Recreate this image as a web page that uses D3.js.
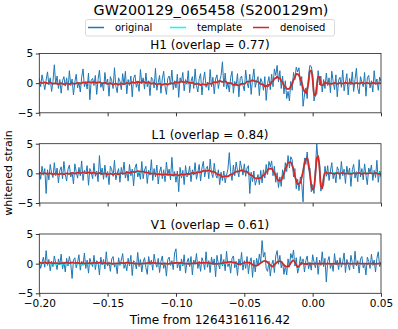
<!DOCTYPE html>
<html>
<head>
<meta charset="utf-8">
<script src="https://cdn.jsdelivr.net/npm/d3@7"></script>
<style>
  body { margin: 0; background: #fff; }
  svg { font-family: "DejaVu Sans", sans-serif; }
</style>
</head>
<body>
<div id="chart"></div>
<script>
// sample grids (s, relative to 1264316116.42)
const tGrid = d3.range(251).map(i => -0.2 + i * 0.001);
const sigT = [
  ...d3.range(83).map(k => -0.2 + 0.002 * k),
  ...d3.range(48).map(k => -0.035 + 0.001 * k),
  ...d3.range(19).map(k => 0.014 + 0.002 * k)
];

const xTicks = [-0.2, -0.15, -0.1, -0.05, 0, 0.05];
const yTicks = [-5, 0, 5];
const seriesNames = ['original', 'template', 'denoised'];
const detectors = ['H1', 'L1', 'V1'];
const overlaps = [0.77, 0.84, 0.61];

// whitened strain, 1 ms samples
const h1Orig = [
  0.8, -0.6, 1.4, 0.2, -1.1, 0.5, 1.9, -0.3, 0.9, -1.4,
  0.3, 3.1, -0.2, 1.2, -0.9, 0.6, -1.7, 0.4, 1.1, -0.5,
  0.9, -1.2, 2.1, -0.4, 0.7, -2.0, 0.2, 1.5, -0.8, 0.1,
  -1.5, 1.0, 2.4, -0.6, 0.3, -1.0, 1.7, -2.8, 0.5, 0.8,
  -0.4, 1.3, -1.9, 0.6, 2.2, -0.7, 0.0, -1.3, 1.8, -0.2,
  0.7, -2.2, 1.1, 0.4, -0.9, 2.6, -0.5, -1.6, 0.9, 0.3,
  -1.1, 1.6, -0.3, 2.0, -1.8, 0.6, -0.4, 1.2, -2.3, 0.8,
  1.4, -0.7, 0.2, -1.4, 2.3, -0.1, 0.9, -1.0, 1.7, -0.6,
  0.4, -2.1, 1.0, 0.6, -0.8, 2.5, -1.2, 0.1, 1.3, -1.7,
  0.7, 2.0, -0.5, -1.9, 0.8, 1.2, -0.3, 2.2, -1.1, 0.4,
  -0.8, 1.5, -2.4, 0.9, 0.2, 1.8, -1.3, 0.6, -0.2, 2.1,
  -1.6, 0.3, 1.1, -0.9, 2.4, -0.4, -1.5, 0.8, 1.6, -2.0,
  0.5, 1.9, -0.7, 0.2, -1.2, 2.3, -0.6, 1.0, -1.8, 0.7,
  1.4, -0.9, 0.4, 1.3, 3.6, -0.6, 1.7, -1.0, 0.1, -1.5,
  0.9, 2.0, -1.7, 0.3, -0.5, 1.6, -2.3, 0.8, 1.2, -0.4,
  -1.3, 2.2, 0.1, -0.8, 1.5, -1.9, 0.6, 2.4, -0.7, 0.3,
  1.1, -2.1, 0.8, 0.2, -1.2, 1.1, -2.9, -0.1, 1.1, -1.1,
  1.5, -0.6, 2.4, 1.3, 3.0, 0.2, 2.1, -0.9, 1.2, -1.8,
  0.4, -2.6, -1.4, -3.0, 0.3, -1.2, 1.8, 0.6, 2.7, 1.9,
  2.6, -0.4, 1.1, -3.9, -2.0, -0.8, -2.6, 1.4, 3.0, 2.8,
  1.5, -3.0, -1.6, -1.9, 2.1, -0.3, 1.2, -1.5, 0.6, -0.9,
  1.7, -0.4, 0.9, -1.6, 2.0, 0.3, -1.1, 1.4, -2.3, 0.5,
  1.0, -0.7, 2.2, -1.3, 0.1, 1.6, -2.0, 0.8, -0.3, 1.9,
  -1.4, 0.6, 2.5, -0.9, -1.8, 1.1, 0.2, -0.6, 1.8, -2.2,
  0.9, 1.3, -0.8, 0.4, -1.5, 2.1, -0.2, 0.7, -1.2, 1.0,
  0.3
];
const l1Orig = [
  0.4, -1.0, 1.2, -0.3, 0.8, -3.4, 0.6, -1.1, 1.5, 0.0,
  -0.7, 1.8, -0.4, 0.9, -1.6, 0.5, 1.1, -0.9, 2.0, -0.2,
  -1.3, 0.7, 1.4, -0.6, 0.2, -1.8, 1.6, 0.3, -0.8, 1.0,
  -0.4, 2.1, -1.2, 0.5, -0.1, 1.3, -2.0, 0.8, 0.2, -0.9,
  1.7, -0.5, 0.4, -1.4, 3.0, -0.3, 0.9, -1.0, 1.4, -0.7,
  0.3, -1.9, 1.2, 0.6, -0.5, 2.2, -1.1, 0.0, 0.8, -1.5,
  1.0, -0.2, 1.9, -0.8, 0.4, -1.3, 1.5, -0.4, 0.7, -2.1,
  0.9, 1.6, -0.6, 0.2, -1.0, 2.0, -0.9, 0.6, 1.2, -1.7,
  0.5, -0.3, 2.3, -1.2, 0.8, -0.6, 1.4, -1.8, 0.2, 1.1,
  -0.9, 0.6, -1.4, 1.9, -0.2, 0.7, -1.1, 2.7, -0.5, 0.3,
  -1.5, 0.4, -3.1, 1.0, -0.8, 0.5, -1.9, 1.3, -0.6, -0.2,
  1.2, -1.4, 0.6, -0.3, 1.8, -1.0, 0.2, 1.5, -1.3, 0.9,
  2.0, -0.6, 0.8, 1.2, -0.9, 2.4, 0.1, -0.7, 1.7, -0.2,
  -0.8, 0.6, -1.9, 0.2, -1.2, 0.4, -1.6, -0.3, 0.7, 3.5,
  0.3, -1.2, 1.4, -0.4, 1.9, 0.5, -0.6, 2.1, 0.9, -0.3,
  1.6, -0.5, 0.9, 1.3, -3.4, 0.2, -1.4, 0.4, -2.0, -1.1,
  -0.2, -1.9, 0.5, -1.6, 0.6, -0.8, 1.5, -0.2, 2.0, 1.1,
  2.1, -0.4, 1.2, -1.5, 0.1, -2.4, -0.6, -2.2, 0.6, -1.0,
  1.8, 0.3, 3.0, 0.9, 2.8, 2.3, -0.6, 0.8, -2.6, -1.0,
  -2.9, -0.6, -1.8, -4.8, 2.6, 1.5, 3.6, 0.7, 0.9, -3.1,
  -1.9, -3.4, 0.8, 5.0, 2.0, 1.9, -3.0, -1.5, -2.1, 1.2,
  -0.5, 1.3, -1.2, 0.4, 1.8, -0.9, 0.2, -1.6, 1.1, 0.5,
  -1.0, 2.0, -0.4, 0.7, -1.7, 1.2, -0.2, 0.9, -2.2, 0.6,
  1.5, -0.8, 0.3, -1.4, 2.3, -0.6, 0.8, -1.1, 1.6, -0.3,
  -1.9, 0.9, 0.2, 1.4, -1.2, 0.5, -0.7, 2.2, -1.5, 0.4,
  -0.6
];
const v1Orig = [
  0.5, -0.8, 0.2, 1.1, -0.6, 2.2, -0.3, 0.7, -1.2, 0.4,
  -0.5, 1.3, 0.1, -1.0, 0.8, -0.2, 1.6, -0.9, 0.3, -1.4,
  0.9, -0.4, 1.2, 0.0, -2.5, 0.6, 1.0, -0.7, 0.2, 1.5,
  -1.1, 0.4, -0.3, 1.8, -0.8, 0.6, -1.6, 0.9, 0.1, -0.5,
  1.4, -1.0, 0.5, 0.2, -1.9, 1.1, -0.2, 0.7, -0.9, 2.0,
  -0.4, 0.3, -1.3, 0.8, 1.2, -0.6, 0.1, -1.7, 1.0, -0.3,
  0.6, 1.7, -0.8, 0.0, -1.2, 0.9, -0.4, 1.4, -2.0, 0.5,
  0.2, -0.9, 1.9, -0.5, 0.7, -1.4, 0.3, 1.0, -0.7, -1.8,
  1.2, -0.2, 0.6, -1.1, 1.6, 0.1, -0.6, 0.9, -1.5, 0.4,
  1.3, -0.8, 0.2, -2.1, 0.7, 1.1, -0.3, 0.5, -1.0, 1.8,
  2.5, -0.7, 0.3, -1.2, 0.8, -0.4, 1.5, -1.6, 0.2, 0.9,
  -0.5, 1.2, -1.9, 0.6, -0.1, 1.7, -0.8, 0.4, -1.3, 1.0,
  0.3, -1.0, 2.0, -0.6, 0.5, -1.5, 1.1, -0.2, 0.8, -2.2,
  1.4, 0.0, -0.9, 1.6, -0.4, 0.7, -1.2, 2.1, -0.5, 0.2,
  -1.6, 0.9, 1.3, -0.7, 0.4, -2.0, 0.8, -0.3, 1.9, -1.1,
  0.5, -0.8, 1.2, -1.7, 0.3, 1.0, -2.3, 0.6, -1.4, 0.9,
  -0.4, 1.6, 0.2, 3.9, 1.1, 1.9, -0.8, -1.3, 0.4, -2.1,
  -0.2, 0.6, -1.5, 1.3, 2.2, -0.1, 1.4, -0.7, 0.3, -1.8,
  -0.3, -1.9, 0.8, -0.6, 1.7, 0.9, 2.3, -0.4, 1.0, -1.6,
  -0.6, 1.2, -0.2, 0.8, -1.4, 0.5, 1.3, -0.9, 0.2, -1.1,
  1.5, 0.3, -0.7, 1.1, -1.8, 0.6, -0.3, 2.0, -0.5, 0.9,
  -3.1, 0.4, 1.2, -0.8, 0.1, -1.3, 1.7, -0.2, 0.6, -1.0,
  1.0, -0.6, 0.3, 1.8, -1.5, 0.7, -0.1, -1.1, 1.4, 0.2,
  -0.9, 2.1, -0.4, 0.5, -1.6, 0.8, 1.2, -0.7, 0.0, -1.9,
  1.1, 0.4, -0.8, 1.6, -0.3, 0.6, -1.4, 0.9, 2.0, -0.5,
  0.3
];

// template and denoised, on sigT
const h1Template = [
  0.10, 0.09, 0.07, 0.04, 0.01, -0.02, -0.06, -0.09, -0.11, -0.12,
  -0.12, -0.11, -0.08, -0.05, -0.01, 0.02, 0.06, 0.10, 0.13, 0.14,
  0.14, 0.12, 0.09, 0.05, 0.00, -0.05, -0.10, -0.14, -0.16, -0.16,
  -0.14, -0.10, -0.05, 0.01, 0.07, 0.12, 0.16, 0.18, 0.17, 0.13,
  0.07, 0.00, -0.07, -0.14, -0.18, -0.20, -0.19, -0.14, -0.07, 0.02,
  0.10, 0.17, 0.21, 0.22, 0.18, 0.11, 0.02, -0.08, -0.17, -0.23,
  -0.25, -0.21, -0.13, -0.02, 0.10, 0.22, 0.30, 0.29, 0.21, 0.08,
  -0.07, -0.22, -0.34, -0.32, -0.20, -0.02, 0.18, 0.36, 0.44, 0.38,
  0.20, -0.06, -0.32,
  -0.48, -0.52, -0.48, -0.34, -0.12, 0.14, 0.42, 0.70, 0.90, 1.00,
  0.95, 0.75, 0.45, 0.08, -0.30, -0.65, -0.90, -1.00, -0.90, -0.55,
  -0.05, 0.50, 1.05, 1.48, 1.58, 1.30, 0.75, 0.00, -0.80, -1.45,
  -1.58, -1.10, 0.30, 2.00, 2.20, 0.60, -1.80, -2.20, -0.60, 1.20,
  0.90, -0.20, -0.45, -0.15, 0.10, 0.05, -0.02, 0.00,
  0, 0, 0, 0, 0, 0, 0, 0, 0, 0, 0, 0, 0, 0, 0, 0, 0, 0, 0
];
const h1Denoised = [
  0.15, 0.02, 0.12, -0.03, 0.08, -0.10, 0.01, -0.17, -0.02, -0.20,
  -0.05, -0.18, -0.01, -0.12, 0.06, -0.06, 0.14, 0.03, 0.22, 0.08,
  0.20, 0.05, 0.16, -0.03, 0.07, -0.13, -0.02, -0.22, -0.08, -0.24,
  -0.06, -0.18, 0.03, -0.07, 0.15, 0.04, 0.24, 0.10, 0.25, 0.05,
  0.15, -0.08, 0.02, -0.22, -0.08, -0.28, -0.11, -0.24, 0.01, -0.06,
  0.18, 0.08, 0.29, 0.13, 0.26, 0.03, 0.10, -0.16, -0.08, -0.31,
  -0.16, -0.29, -0.05, -0.12, 0.18, 0.12, 0.38, 0.20, 0.29, -0.02,
  0.03, -0.30, -0.24, -0.40, -0.10, -0.12, 0.26, 0.28, 0.52, 0.30,
  0.27, -0.14, -0.25,
  -0.56, -0.42, -0.56, -0.26, -0.20, 0.22, 0.34, 0.78, 0.84, 1.08,
  0.88, 0.82, 0.38, 0.15, -0.38, -0.58, -0.98, -0.94, -0.98, -0.48,
  -0.12, 0.58, 0.98, 1.55, 1.50, 1.36, 0.68, 0.06, -0.88, -1.38,
  -1.64, -1.02, 0.22, 2.08, 2.12, 0.68, -1.88, -2.12, -0.52, 1.12,
  0.98, -0.28, -0.38, -0.22, 0.16, -0.03, 0.06, -0.08,
  -0.10, 0.06, -0.12, 0.04, -0.08, 0.08, -0.05, 0.10, -0.11, 0.03,
  -0.07, 0.09, -0.04, 0.05, -0.10, 0.07, -0.06, 0.02, -0.03
];
const l1Template = [
  0.05, 0.02, -0.02, -0.05, -0.07, -0.09, -0.10, -0.10, -0.10, -0.08,
  -0.06, -0.03, 0.00, 0.03, 0.06, 0.08, 0.10, 0.10, 0.10, 0.08,
  0.06, 0.03, 0.00, -0.04, -0.07, -0.10, -0.12, -0.12, -0.11, -0.08,
  -0.04, 0.01, 0.06, 0.11, 0.16, 0.19, 0.20, 0.19, 0.16, 0.12,
  0.07, 0.02, -0.04, -0.10, -0.16, -0.21, -0.26, -0.30, -0.33, -0.35,
  -0.35, -0.34, -0.31, -0.26, -0.20, -0.12, -0.03, 0.07, 0.17, 0.27,
  0.36, 0.43, 0.44, 0.36, 0.18, -0.06, -0.32, -0.52, -0.55, -0.45,
  -0.25, 0.00, 0.24, 0.40, 0.45, 0.38, 0.18, -0.12, -0.48, -0.80,
  -0.88, -0.70, -0.35,
  -0.10, 0.20, 0.50, 0.75, 0.85, 0.78, 0.50, 0.08, -0.40, -0.90,
  -1.22, -1.30, -1.10, -0.60, 0.05, 0.70, 1.30, 1.75, 1.90, 1.85,
  1.40, 0.60, -0.40, -1.30, -1.75, -1.80, -1.50, -0.70, 0.40, 1.60,
  2.45, 2.55, 1.60, -0.20, -2.00, -2.80, -2.30, -0.20, 2.50, 2.90,
  1.00, -2.20, -2.50, -0.90, 0.20, 0.10, 0.00, 0.00,
  0.08, 0.10, 0.08, 0.05, 0.05, 0.06, 0.05, 0.04, 0.05, 0.05,
  0.04, 0.05, 0.05, 0.04, 0.05, 0.05, 0.04, 0.05, 0.05
];
const l1Denoised = [
  0.12, -0.04, 0.05, -0.12, 0.00, -0.15, -0.03, -0.17, -0.05, -0.14,
  0.01, -0.09, 0.08, -0.03, 0.12, 0.02, 0.17, 0.04, 0.15, 0.01,
  0.12, -0.04, 0.06, -0.10, -0.01, -0.16, -0.05, -0.18, -0.04, -0.14,
  0.03, -0.05, 0.14, 0.08, 0.25, 0.22, 0.38, 0.30, 0.28, 0.15,
  0.10, -0.05, -0.02, -0.16, -0.12, -0.24, -0.16, -0.22, -0.24, -0.30,
  -0.22, -0.33, -0.18, -0.24, -0.08, -0.14, 0.06, 0.02, 0.22, 0.20,
  0.42, 0.38, 0.50, 0.30, 0.24, -0.12, -0.25, -0.58, -0.48, -0.52,
  -0.18, -0.06, 0.30, 0.34, 0.52, 0.32, 0.24, -0.18, -0.42, -0.86,
  -0.82, -0.76, -0.28,
  -0.16, 0.26, 0.44, 0.82, 0.78, 0.84, 0.42, 0.14, -0.46, -0.84,
  -1.28, -1.24, -1.16, -0.54, -0.02, 0.76, 1.22, 1.82, 1.84, 1.90,
  1.34, 0.66, -0.46, -1.24, -1.82, -1.74, -1.56, -0.64, 0.34, 1.66,
  2.38, 2.60, 1.52, -0.14, -2.06, -2.72, -2.36, -0.12, 2.42, 2.96,
  0.92, -2.14, -2.56, -0.84, 0.14, 0.16, -0.06, 0.05,
  0.02, -0.08, 0.06, -0.04, 0.09, -0.06, 0.03, -0.10, 0.05, -0.02,
  0.08, -0.07, 0.04, -0.05, 0.07, -0.03, 0.06, -0.08, 0.02
];
const v1Template = [
  0.02, 0.04, 0.05, 0.04, 0.01, -0.02, -0.04, -0.05, -0.04, -0.01,
  0.02, 0.04, 0.05, 0.04, 0.01, -0.02, -0.04, -0.05, -0.04, -0.01,
  0.02, 0.04, 0.05, 0.04, 0.01, -0.02, -0.04, -0.05, -0.04, -0.01,
  0.02, 0.04, 0.05, 0.04, 0.01, -0.02, -0.05, -0.06, -0.04, 0.00,
  0.04, 0.06, 0.05, 0.02, -0.02, -0.05, -0.06, -0.04, 0.00, 0.04,
  0.06, 0.06, 0.03, -0.02, -0.06, -0.07, -0.04, 0.01, 0.05, 0.08,
  0.08, 0.08, 0.04, -0.02, -0.07, -0.10, -0.09, -0.03, 0.05, 0.13,
  0.15, 0.08, -0.05, -0.15, -0.10, 0.05, 0.20, 0.10, -0.20, -0.40,
  -0.25, 0.15, 0.45,
  0.50, 0.42, 0.25, 0.00, -0.28, -0.48, -0.45, -0.25, 0.02, 0.28,
  0.42, 0.45, 0.30, 0.05, -0.25, -0.48, -0.55, -0.52, -0.25, 0.15,
  0.55, 0.75, 0.40, -0.30, -0.75, -0.55, 0.00, 0.30, 0.15, -0.10,
  -0.20, -0.10, 0.05, 0.05, 0.00, -0.02, 0.00, 0.00, 0.00, 0.00,
  0, 0, 0, 0, 0, 0, 0, 0,
  0, 0, 0, 0, 0, 0, 0, 0, 0, 0, 0, 0, 0, 0, 0, 0, 0, 0, 0
];
const v1Denoised = [
  0.22, 0.10, 0.18, 0.08, 0.16, 0.05, 0.12, 0.02, 0.10, 0.06,
  0.18, 0.08, 0.20, 0.10, 0.14, 0.04, 0.10, 0.00, 0.08, 0.05,
  0.15, 0.09, 0.18, 0.06, 0.12, 0.00, 0.06, -0.02, 0.05, 0.02,
  0.12, 0.08, 0.16, 0.10, 0.08, 0.02, 0.00, -0.04, 0.04, 0.03,
  0.12, 0.10, 0.14, 0.05, 0.06, -0.02, 0.02, -0.03, 0.06, 0.08,
  0.14, 0.10, 0.12, 0.02, 0.02, -0.04, 0.03, 0.05, 0.10, 0.14,
  0.12, 0.16, 0.08, 0.06, -0.02, -0.04, 0.02, 0.08, 0.18, 0.26,
  0.30, 0.20, 0.08, -0.08, -0.02, 0.12, 0.22, 0.12, -0.16, -0.36,
  -0.22, 0.12, 0.40,
  0.46, 0.40, 0.22, 0.04, -0.26, -0.44, -0.48, -0.22, 0.04, 0.24,
  0.40, 0.42, 0.32, 0.02, -0.22, -0.44, -0.50, -0.46, -0.22, 0.10,
  0.38, 0.50, 0.28, -0.22, -0.58, -0.46, -0.08, 0.12, 0.04, -0.06,
  -0.02, -0.08, 0.04, 0.00, -0.04, 0.02, -0.05, 0.03, 0.00, -0.04,
  0.02, -0.03, 0.04, -0.02, 0.01, -0.04, 0.03, 0.00,
  -0.03, 0.02, -0.04, 0.03, 0.00, -0.02, 0.04, -0.03, 0.01, -0.02,
  0.03, -0.01, 0.02, -0.04, 0.02, 0.00, -0.03, 0.02, 0.01
];

const origs = [h1Orig, l1Orig, v1Orig];
const templates = [h1Template, l1Template, v1Template];
const denoiseds = [h1Denoised, l1Denoised, v1Denoised];

const W = 398, H = 329;
const left = 39.3, right = 381;
const panelTops = [53.5, 143.7, 234];
const panelH = 59.3;
const colors = { original: '#1f77b4', template: '#00ffff', denoised: '#d62728' };

const svg = d3.select('#chart').append('svg')
    .attr('width', W)
    .attr('height', H);

const x = d3.scaleLinear().domain([-0.2, 0.05]).range([left, right]);
const fmtX = d3.format('.2f');

// legend
const lg = svg.append('g');
lg.append('rect')
    .attr('x', 85.5).attr('y', 19.5)
    .attr('width', 249).attr('height', 16.5)
    .attr('rx', 2)
    .attr('fill', '#fff')
    .attr('stroke', '#d0d0d0')
    .attr('stroke-width', 0.8);
const legX = [88, 170, 253];
seriesNames.forEach((s, i) => {
  lg.append('line')
      .attr('x1', legX[i]).attr('x2', legX[i] + 16)
      .attr('y1', 27.5).attr('y2', 27.5)
      .attr('stroke', colors[s])
      .attr('stroke-width', 1.5);
  lg.append('text')
      .attr('x', legX[i] + 27).attr('y', 31.3)
      .attr('font-size', 10)
      .text(s);
});

svg.append('text')
    .attr('x', 211).attr('y', 15)
    .attr('text-anchor', 'middle')
    .attr('font-size', 14.3)
    .text('GW200129_065458 (S200129m)');

detectors.forEach((det, p) => {
  const top = panelTops[p];
  const y = d3.scaleLinear().domain([-5, 5]).range([top + panelH, top]);
  const g = svg.append('g');

  const clipId = 'clip' + p;
  svg.append('clipPath').attr('id', clipId)
    .append('rect')
      .attr('x', left).attr('y', top)
      .attr('width', right - left).attr('height', panelH);

  const plot = g.append('g').attr('clip-path', `url(#${clipId})`);

  const line = d3.line()
      .x(d => x(d[0]))
      .y(d => y(d[1]));

  plot.append('path')
      .datum(origs[p].map((v, i) => [tGrid[i], v]))
      .attr('fill', 'none')
      .attr('stroke', colors.original)
      .attr('stroke-width', 1)
      .attr('stroke-linejoin', 'round')
      .attr('d', line);

  plot.append('path')
      .datum(templates[p].map((v, i) => [sigT[i], v]))
      .attr('fill', 'none')
      .attr('stroke', colors.template)
      .attr('stroke-width', 1.5)
      .attr('d', line.curve(d3.curveMonotoneX));

  plot.append('path')
      .datum(denoiseds[p].map((v, i) => [sigT[i], v]))
      .attr('fill', 'none')
      .attr('stroke', colors.denoised)
      .attr('stroke-width', 1.8)
      .attr('stroke-linejoin', 'round')
      .attr('d', line.curve(d3.curveMonotoneX));

  const yAxis = g.append('g')
      .attr('transform', `translate(${left},0)`)
      .call(d3.axisLeft(y).tickValues(yTicks).tickSize(3.5).tickPadding(2.5));
  const xAxis = g.append('g')
      .attr('transform', `translate(0,${top + panelH})`)
      .call(d3.axisBottom(x).tickValues(xTicks).tickSize(3.5).tickPadding(3)
        .tickFormat(p === 2 ? fmtX : ''));
  [xAxis, yAxis].forEach(a => {
    a.select('.domain').remove();
    a.selectAll('text').attr('font-size', 10.5).attr('fill', '#000')
      .attr('font-family', '"DejaVu Sans", sans-serif');
    a.selectAll('line').attr('stroke', '#000').attr('stroke-width', 0.8);
  });

  g.append('rect')
      .attr('x', left).attr('y', top)
      .attr('width', right - left).attr('height', panelH)
      .attr('fill', 'none')
      .attr('stroke', '#222')
      .attr('stroke-width', 0.8);

  g.append('text')
      .attr('x', 210).attr('y', top - 5)
      .attr('text-anchor', 'middle')
      .attr('font-size', 12)
      .text(`${det} (overlap = ${overlaps[p].toFixed(2)})`);
});

svg.append('text')
    .attr('x', 210).attr('y', 324)
    .attr('text-anchor', 'middle')
    .attr('font-size', 12)
    .text('Time from 1264316116.42');

svg.append('text')
    .attr('transform', 'translate(12,173) rotate(-90)')
    .attr('text-anchor', 'middle')
    .attr('font-size', 11)
    .text('whitened strain');
</script>
</body>
</html>
